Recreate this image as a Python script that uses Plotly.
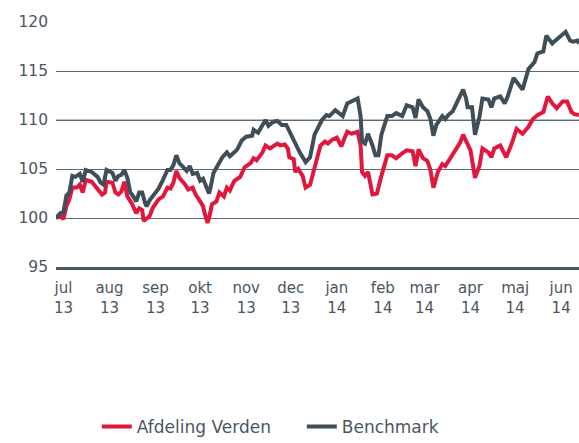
import pandas as pd
import plotly.graph_objects as go

# Days since 1 Jul 2013 and index values
afdeling_days = [0, 3, 5, 7, 9, 11, 14, 16, 18, 20, 24, 28, 31, 33, 34, 38, 40, 42, 44, 46, 48, 51, 54, 56, 58, 59, 61, 63, 65, 69, 72, 75, 77, 79, 81, 83, 87, 89, 92, 94, 97, 99, 100, 102, 103, 105, 108, 110, 113, 115, 117, 120, 124, 127, 131, 133, 135, 139, 141, 144, 149, 151, 154, 156, 157, 160, 161, 163, 166, 168, 171, 174, 178, 181, 183, 186, 189, 192, 196, 199, 203, 205, 206, 208, 210, 213, 216, 219, 223, 226, 229, 233, 236, 240, 242, 244, 247, 250, 252, 254, 257, 260, 262, 265, 269, 272, 274, 277, 279, 282, 285, 287, 291, 293, 295, 299, 303, 307, 310, 314, 318, 321, 324, 328, 331, 334, 337, 341, 344, 347, 349, 352]
afdeling_values = [100.0, 100.2, 99.9, 101.2, 101.9, 103.1, 103.1, 103.4, 102.6, 103.9, 103.7, 102.9, 102.4, 102.6, 103.7, 103.6, 102.6, 102.4, 102.7, 103.7, 102.2, 101.5, 100.5, 101.0, 100.8, 99.7, 99.9, 100.2, 101.0, 101.9, 102.2, 103.1, 103.0, 103.6, 104.8, 104.1, 103.4, 102.9, 103.1, 102.4, 101.7, 101.2, 100.5, 99.5, 100.0, 101.4, 101.7, 102.6, 102.2, 103.1, 102.8, 103.8, 104.2, 105.2, 105.6, 106.1, 105.9, 106.7, 107.4, 107.1, 107.6, 107.4, 107.5, 107.1, 106.2, 106.0, 104.7, 105.0, 104.3, 103.1, 103.4, 105.3, 107.4, 107.8, 107.6, 108.0, 108.2, 107.3, 108.8, 108.6, 108.8, 107.4, 104.7, 104.3, 104.7, 102.4, 102.5, 104.3, 106.4, 106.4, 106.1, 106.6, 106.9, 106.8, 105.3, 107.0, 106.1, 105.8, 104.9, 103.1, 104.7, 105.5, 105.3, 106.0, 106.9, 107.7, 108.5, 107.5, 106.9, 104.1, 105.3, 107.1, 106.7, 106.2, 107.1, 107.4, 106.2, 107.7, 109.1, 108.6, 109.3, 110.1, 110.5, 110.8, 112.4, 111.7, 111.2, 111.9, 111.9, 110.8, 110.6, 110.5]

benchmark_days = [0, 3, 5, 7, 9, 11, 13, 16, 18, 20, 24, 28, 30, 32, 34, 38, 40, 42, 44, 46, 48, 50, 52, 54, 56, 58, 60, 61, 63, 65, 69, 72, 75, 77, 79, 81, 83, 85, 88, 90, 92, 95, 97, 99, 102, 103, 104, 106, 109, 112, 115, 117, 120, 122, 125, 128, 132, 133, 136, 141, 143, 146, 149, 152, 155, 157, 160, 162, 164, 168, 171, 174, 179, 182, 184, 188, 191, 193, 196, 199, 203, 205, 206, 208, 210, 213, 215, 217, 219, 223, 226, 229, 233, 236, 240, 242, 244, 247, 250, 252, 254, 256, 260, 262, 264, 267, 271, 274, 276, 277, 280, 282, 285, 287, 291, 293, 295, 299, 302, 304, 308, 312, 314, 318, 322, 324, 328, 330, 334, 336, 339, 343, 346, 348, 351, 352]
benchmark_values = [100.0, 100.5, 100.6, 102.3, 102.6, 104.3, 104.2, 104.5, 103.7, 104.9, 104.7, 104.2, 103.6, 103.4, 104.9, 104.6, 103.8, 104.3, 104.4, 104.9, 104.1, 102.6, 102.2, 101.7, 102.6, 102.6, 101.5, 101.2, 101.8, 102.2, 103.0, 103.9, 104.9, 104.9, 105.4, 106.4, 105.6, 105.3, 104.8, 105.3, 104.5, 104.6, 103.8, 104.0, 102.8, 102.5, 103.1, 104.6, 105.4, 106.2, 106.7, 106.3, 106.7, 107.0, 107.9, 108.3, 108.4, 109.0, 108.7, 110.0, 109.4, 109.8, 109.9, 109.5, 109.5, 108.9, 107.8, 107.4, 106.7, 105.7, 106.2, 108.5, 110.0, 110.5, 110.4, 111.0, 110.7, 110.4, 111.7, 111.9, 112.2, 110.4, 107.8, 107.6, 108.6, 107.4, 106.4, 106.4, 108.5, 110.4, 110.4, 110.7, 110.4, 111.5, 111.3, 110.2, 112.1, 111.3, 110.9, 110.1, 108.4, 109.5, 110.4, 110.1, 110.5, 110.9, 112.1, 113.1, 112.2, 111.3, 111.3, 108.5, 110.3, 112.2, 112.1, 111.3, 112.2, 112.4, 111.7, 112.4, 114.3, 113.6, 113.1, 115.2, 115.9, 116.8, 117.0, 118.6, 117.8, 118.1, 118.5, 119.0, 118.1, 118.0, 118.1, 117.8]

month_tick_dates = ["2013-07-06", "2013-08-06", "2013-09-06", "2013-10-06", "2013-11-06", "2013-12-06",
                    "2014-01-06", "2014-02-06", "2014-03-06", "2014-04-06", "2014-05-06", "2014-06-06"]
month_tick_labels = ["jul<br>13", "aug<br>13", "sep<br>13", "okt<br>13", "nov<br>13", "dec<br>13",
                     "jan<br>14", "feb<br>14", "mar<br>14", "apr<br>14", "maj<br>14", "jun<br>14"]
y_ticks = [95, 100, 105, 110, 115, 120]

start = pd.Timestamp("2013-07-01")
afdeling_dates = start + pd.to_timedelta(afdeling_days, unit="D")
benchmark_dates = start + pd.to_timedelta(benchmark_days, unit="D")

RED = "#e2173d"
DARK = "#404e58"
TEXT = "#4a5761"
FONT = "DejaVu Sans"

fig = go.Figure()
fig.add_trace(go.Scatter(x=afdeling_dates, y=afdeling_values, mode="lines",
                         name="Afdeling Verden", line=dict(color=RED, width=4)))
fig.add_trace(go.Scatter(x=benchmark_dates, y=benchmark_values, mode="lines",
                         name="Benchmark", line=dict(color=DARK, width=4)))

fig.update_layout(
    width=579, height=443,
    margin=dict(l=56, r=0, t=22, b=176),
    paper_bgcolor="white", plot_bgcolor="white",
    font=dict(family=FONT, color=TEXT, size=15),
    showlegend=True,
    legend=dict(orientation="h", x=0.078, xanchor="left",
                yref="container", y=0.036, yanchor="middle",
                font=dict(size=17, color=TEXT), itemwidth=30, entrywidth=160,
                traceorder="normal"),
    xaxis=dict(
        type="date",
        range=[start, start + pd.Timedelta(days=352)],
        tickmode="array", tickvals=month_tick_dates, ticktext=month_tick_labels,
        showgrid=False, zeroline=False,
        showline=True, linecolor="#4a5661", linewidth=3, ticks="",
        ticklabelstandoff=5,
        tickfont=dict(size=15, color=TEXT),
    ),
    yaxis=dict(
        range=[y_ticks[0], y_ticks[-1]], tickvals=y_ticks,
        showgrid=True, gridcolor="#5e6a73", gridwidth=1,
        zeroline=False, showline=False, ticks="",
        ticklabelstandoff=7,
        tickfont=dict(size=15.5, color=TEXT),
    ),
)
# the 110 grid line is lighter in the reference
fig.add_hline(y=y_ticks[3], line=dict(color="#a3a8ac", width=1.5), layer="below")

fig.write_html("out.html", config={"displayModeBar": False},
               post_script="document.body.style.margin='0';")
